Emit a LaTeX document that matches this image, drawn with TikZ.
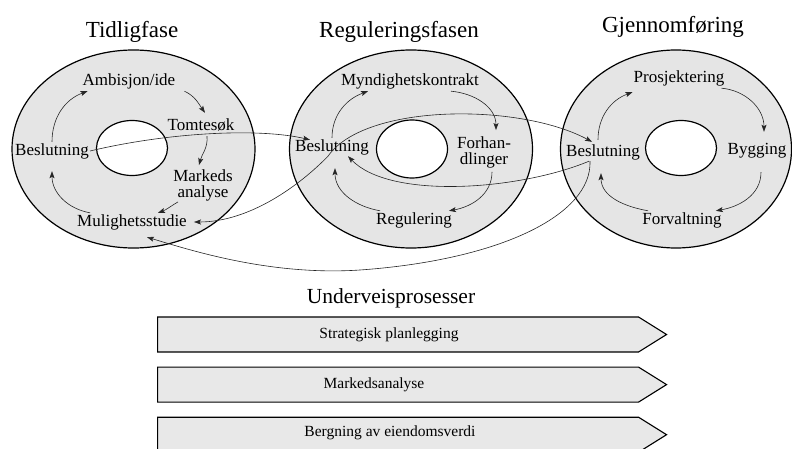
\documentclass[tikz,border=0pt]{standalone}
\usepackage{fontspec}
\setmainfont{Liberation Serif}
\usepackage{tikz}
\usetikzlibrary{shapes.geometric, shapes.symbols, arrows.meta, positioning}

\begin{document}
\begin{tikzpicture}[
    x=1pt, y=1pt,
    phase/.style={ellipse, draw=black, line width=1.2pt, fill=black!10, minimum width=243pt, minimum height=198pt, inner sep=0pt},
    hole/.style={ellipse, draw=black, line width=1.2pt, fill=white, minimum width=71pt, minimum height=55pt, inner sep=0pt},
    phasetitle/.style={font=\fontsize{23}{26}\selectfont, inner sep=1pt},
    lbl/.style={font=\fontsize{17}{20}\selectfont, inner sep=1pt, text height=12pt, text depth=4pt},
    lbltwo/.style={font=\fontsize{17}{16}\selectfont, inner sep=1pt, align=center},
    proc/.style={signal, signal to=east, signal pointer angle=64, draw=black, line width=1.1pt, fill=black!9, minimum width=509pt, minimum height=35pt, inner sep=0pt},
    proctext/.style={font=\fontsize{15.5}{18}\selectfont, inner sep=1pt},
    arrow/.style={-{Stealth[length=7pt, width=5pt, inset=1.5pt]}, line width=0.6pt, draw=black!85}
]
\useasboundingbox (0,0) rectangle (792,448);

\node[phase] (tidl) at (133.5,299) {};
\node[phase] (regu) at (411,299) {};
\node[phase, minimum width=231pt] (gjen) at (676,299) {};
\node[hole] (hole1) at (132,300) {};
\node[hole, minimum height=58pt] (hole2) at (412,299) {};
\node[hole] (hole3) at (681,300) {};

\node[phasetitle] (tidltitle) at (132,416) {Tidligfase};
\node[phasetitle] (regutitle) at (399,416) {Reguleringsfasen};
\node[phasetitle] (gjentitle) at (673,421) {Gjennomføring};

\node[lbl] (amb) at (129,366) {Ambisjon/ide};
\node[lbl] (tom) at (201,321) {Tomtesøk};
\node[lbl] (bes1) at (52,297) {Beslutning};
\node[lbltwo] (mar) at (203,263) {Markeds\\analyse};
\node[lbl] (mul) at (132,226) {Mulighetsstudie};

\node[lbl] (myn) at (410,366) {Myndighetskontrakt};
\node[lbl] (bes2) at (332,301) {Beslutning};
\node[lbltwo] (forh) at (484,296) {Forhan-\\dlinger};
\node[lbl] (reg) at (414,228) {Regulering};

\node[lbl] (pro) at (679,369) {Prosjektering};
\node[lbl] (bes3) at (603,296) {Beslutning};
\node[lbl] (byg) at (757,298) {Bygging};
\node[lbl] (forv) at (682,228) {Forvaltning};

\draw[arrow] (bes1.north) to[out=90, in=200] ([xshift=6pt]amb.south west);
\draw[arrow] ([xshift=8pt]amb.south east) to[out=-25, in=125] ([shift={(4,5)}]tom.north);
\draw[arrow] ([xshift=6pt]tom.south) to[out=-85, in=75] ([shift={(-4,3)}]mar.north);
\draw[arrow] ([xshift=-25pt]mar.south) to[out=-150, in=20] ([xshift=26pt]mul.north);
\draw[arrow] ([xshift=-42pt]mul.north) to[out=170, in=-90] ([yshift=-11pt]bes1.south);

\draw[arrow] (bes2.north) to[out=90, in=200] ([xshift=-42pt]myn.south);
\draw[arrow] ([xshift=41pt]myn.south) to[out=-5, in=90] ([shift={(12,5)}]forh.north);
\draw[arrow] ([shift={(8,-3)}]forh.south) to[out=-90, in=10] ([xshift=-4pt]reg.north east);
\draw[arrow] ([xshift=5pt]reg.north west) to[out=170, in=-90] ([shift={(3,-12)}]bes2.south);

\draw[arrow] ([shift={(-5,3)}]bes3.north) to[out=90, in=200] ([yshift=-4pt]pro.south west);
\draw[arrow] ([xshift=-4pt]pro.south east) to[out=-5, in=90] ([shift={(7,9)}]byg.north);
\draw[arrow] ([shift={(4,-13)}]byg.south) to[out=-90, in=10] ([xshift=-7pt]forv.north east);
\draw[arrow] ([xshift=7pt]forv.north west) to[out=170, in=-90] ([shift={(-2,-12)}]bes3.south);

\draw[arrow] (bes1.east) .. controls (170,316) and (260,320) .. ([shift={(16,-2)}]bes2.north west);
\draw[arrow] ([xshift=-4pt]bes2.south) .. controls (300,263) and (250,226) .. ([xshift=6pt]mul.east);
\draw[arrow] ([xshift=-4pt]bes2.south) .. controls (365,345) and (520,345) .. ([shift={(-11,1)}]bes3.north);
\draw[arrow] ([xshift=-14pt]bes3.south) .. controls (520,258) and (390,248) .. ([xshift=16pt]bes2.south);
\draw[arrow] ([xshift=-13pt]bes3.south) .. controls (592,233) and (500,188) .. (360,178) .. controls (270,172) and (190,198) .. ([shift={(15,-6)}]mul.south);

\node[phasetitle, font=\fontsize{21.5}{24}\selectfont] (underveis) at (391,150) {Underveisprosesser};
\node[proc, anchor=west] (strat) at (157,113.5) {};
\node[proc, below=14pt of strat] (mark) {};
\node[proc, below=14pt of mark] (berg) {};
\node[proctext] (strattext) at (389,113) {Strategisk planlegging};
\node[proctext] (marktext) at (374,63) {Markedsanalyse};
\node[proctext] (bergtext) at (390,15) {Bergning av eiendomsverdi};
\end{tikzpicture}
\end{document}
